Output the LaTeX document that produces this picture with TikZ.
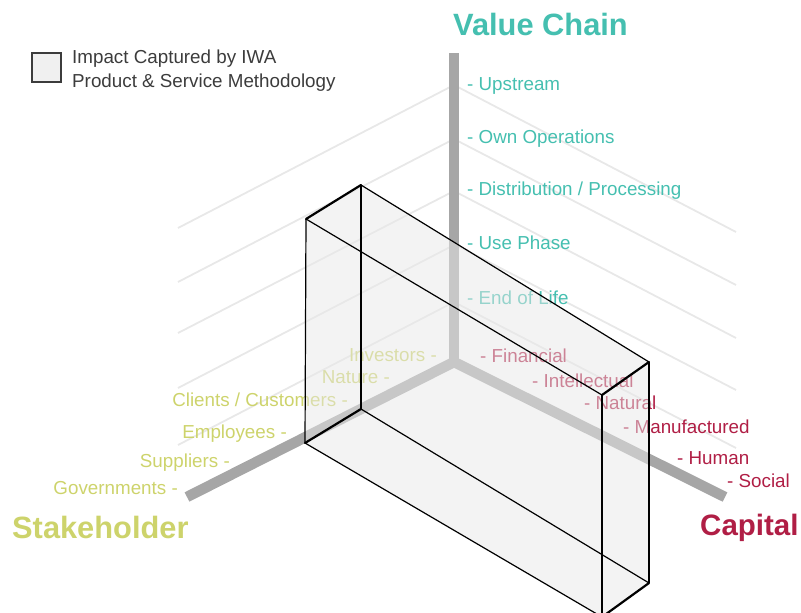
\documentclass[tikz,border=0pt]{standalone}
\usepackage{amsmath,amssymb}
\usepackage{xcolor}
\usepackage{tikz}
\usepackage{fontspec}
\setmainfont{Liberation Sans}

\definecolor{vchain}{HTML}{45BFB0}
\definecolor{stake}{HTML}{CDD36B}
\definecolor{capit}{HTML}{B01E45}
\definecolor{axisgray}{HTML}{A6A6A6}
\definecolor{gridgray}{HTML}{E8E8E8}
\definecolor{keytext}{HTML}{3C3C3C}

\begin{document}
\begin{tikzpicture}[x=1pt,y=-1pt,
    lbl/.style={font=\fontsize{18.8}{22}\selectfont, inner sep=0pt, text height=13.5pt, text depth=0pt},
    ttl/.style={font=\fontsize{30.8}{36}\selectfont\bfseries, inner sep=0pt, text height=22pt, text depth=0pt},
    gridline/.style={draw=gridgray, line width=1.8pt},
    axisbar/.style={draw=axisgray, line width=10.5pt},
    edge/.style={draw=black, line width=1.2pt},
    shortedge/.style={draw=black, line width=2.2pt, line cap=round}]
\useasboundingbox (0,0) rectangle (801,613);

    % grid lines behind the axes
    \draw[gridline] (178,228) -- (454,85);
    \draw[gridline] (178,282) -- (454,139);
    \draw[gridline] (178,333) -- (454,191);
    \draw[gridline] (178,388) -- (454,245);
    \draw[gridline] (178,445) -- (454,302);
    \draw[gridline] (454,85) -- (736,232);
    \draw[gridline] (454,139) -- (736,285);
    \draw[gridline] (454,191) -- (736,338);
    \draw[gridline] (454,244) -- (736,390);
    \draw[gridline] (454,302) -- (736,448);

    % axes
    \coordinate (o) at (454,362);
    \coordinate (vtop) at (454,53);
    \coordinate (send) at (187,497);
    \coordinate (cend) at (725,497);
    \draw[axisbar] (vtop) -- (o);
    \draw[axisbar, line join=round] (send) -- (o) -- (cend);

    % legend
    \node[draw=keytext, fill=black!6, line width=1.5pt, minimum size=29pt, inner sep=0pt] (key) at (46.5,67.5) {};
    \node[font=\fontsize{18.8}{24}\selectfont, text=keytext, inner sep=0pt, anchor=north west, align=left] (keylbl) at (72,49.5)
        {Impact Captured by IWA\\Product \& Service Methodology};

    % value chain
    \node[ttl, text=vchain, anchor=west] (vt) at (453,24) {Value Chain};
    \node[lbl, text=vchain, anchor=west] (v1) at (467,84) {- Upstream};
    \node[lbl, text=vchain, anchor=west] (v2) at (467,137) {- Own Operations};
    \node[lbl, text=vchain, anchor=west] (v3) at (467,189) {- Distribution / Processing};
    \node[lbl, text=vchain, anchor=west] (v4) at (467,243) {- Use Phase};
    \node[lbl, text=vchain, anchor=west] (v5) at (467,298) {- End of Life};

    % stakeholder
    \node[ttl, text=stake, anchor=west] (st) at (12,527) {Stakeholder};
    \node[lbl, text=stake, anchor=east] (s1) at (437,355) {Investors -};
    \node[lbl, text=stake, anchor=east] (s2) at (390,377) {Nature -};
    \node[lbl, text=stake, anchor=east] (s3) at (348,400) {Clients / Customers -};
    \node[lbl, text=stake, anchor=east] (s4) at (287,432) {Employees -};
    \node[lbl, text=stake, anchor=east] (s5) at (230,461) {Suppliers -};
    \node[lbl, text=stake, anchor=east] (s6) at (178,488) {Governments -};

    % capital
    \node[ttl, text=capit, anchor=west, font=\fontsize{29.5}{36}\selectfont\bfseries] (ct) at (700,524) {Capital};
    \node[lbl, text=capit, anchor=west] (c1) at (480,356) {- Financial};
    \node[lbl, text=capit, anchor=west] (c2) at (532,381) {- Intellectual};
    \node[lbl, text=capit, anchor=west] (c3) at (584,403) {- Natural};
    \node[lbl, text=capit, anchor=west] (c4) at (623,427) {- Manufactured};
    \node[lbl, text=capit, anchor=west] (c5) at (677,458) {- Human};
    \node[lbl, text=capit, anchor=west] (c6) at (727,481) {- Social};

    % the box
    \coordinate (a) at (306,219);
    \coordinate (b) at (361,185);
    \coordinate (c) at (649,362);
    \coordinate (d) at (602,395);
    \coordinate (e) at (305,443);
    \coordinate (f) at (361,409);
    \coordinate (g) at (649,583);
    \coordinate (h) at (602,617);
    \fill[black!9, opacity=0.5] (a) -- (b) -- (c) -- (g) -- (h) -- (e) -- cycle;
    \draw[edge] (b) -- (c);
    \draw[edge] (a) -- (d);
    \draw[edge] (f) -- (g);
    \draw[edge] (e) -- (h);
    \draw[edge] (a) -- (e);
    \draw[edge] (b) -- (f);
    \draw[edge] (c) -- (g);
    \draw[edge] (d) -- (h);
    \draw[shortedge] (a) -- (b);
    \draw[shortedge] (d) -- (c);
    \draw[shortedge] (e) -- (f);
    \draw[shortedge] (h) -- (g);

\end{tikzpicture}
\end{document}
